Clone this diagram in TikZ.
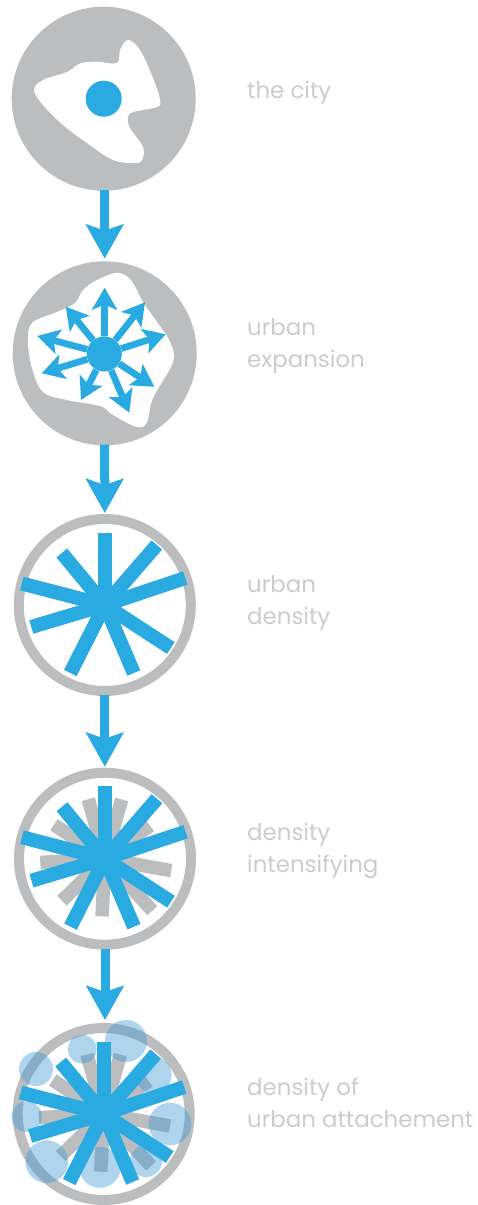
\documentclass[tikz,border=0pt]{standalone}
\usepackage{fontspec}
\setmainfont{Poppins}
\usetikzlibrary{arrows.meta}
\definecolor{cityblue}{HTML}{29ABE2}
\definecolor{citygrey}{HTML}{BBBDBF}
\definecolor{labelgrey}{HTML}{CBCCCE}
\definecolor{haloblue}{RGB}{67,155,216}
\tikzset{
  disc/.style={circle, fill=citygrey, inner sep=0pt, minimum size=184pt},
  ring/.style={circle, draw=citygrey, line width=10pt, inner sep=0pt, minimum size=172pt},
  hub/.style={circle, fill=cityblue, inner sep=0pt},
  flow/.style={draw=cityblue, line width=9pt, shorten <=-1pt, -{Stealth[length=34pt,width=37pt,inset=6pt]}},
  ray/.style={draw=cityblue, line width=6.7pt, -{Stealth[length=22pt,width=25pt,inset=5pt]}},
  spoke/.style={draw=cityblue, line width=14pt},
  bar/.style={draw=citygrey, line width=13.5pt},
  halo/.style={circle, fill=haloblue, fill opacity=0.43, inner sep=0pt},
  caption/.style={anchor=west, align=left, inner sep=0pt, text=labelgrey, font=\fontsize{22.9}{32}\selectfont}
}
\def\spokeends{0/-72.5,52/-60,80.5/-27,66/43,29/68,-34.5/68,-73.5/22,-83/-21.5,-43/-52}
\def\barends{-16.7/-59.5,16.7/-59.3,45/-33,66.3/12,47.3/52,-3/57.7,-43/42,-64.7/3.7,-51/-34}
\begin{document}
\begin{tikzpicture}[x=1pt,y=-1pt]
\useasboundingbox (0,0) rectangle (478,1205);

\node[disc] (city) at (103.7,98.7) {};
\node[disc] (expansion) at (104.7,353.3) {};
\node[ring] (density) at (104.8,605) {};
\node[ring] (intensify) at (105,858.7) {};
\node[ring] (attach) at (103.7,1114) {};

\draw[flow, shorten >=2.5pt] (city.south -| expansion.north) -- (expansion.north);
\draw[flow, shorten >=1pt] (expansion.south) -- (density.north);
\draw[flow, shorten >=1pt] (density.south) -- (density.south |- intensify.north);
\draw[flow, shorten >=3pt] (intensify.south) -- (intensify.south |- attach.north);

\fill[white] plot[smooth cycle, tension=0.6] coordinates {(34,90) (43,80) (67,72) (80,63.5) (97,61.7) (117,63) (120,50) (128,40) (140,50) (153,78) (160,100) (157,107) (133,112) (128,117) (130,128) (143,147) (142,160) (135,163) (113,160) (87,143) (63,125) (43,105)};
\node[hub, minimum size=36pt] (cityhub) at (103.7,98.7) {};

\fill[white] plot[smooth cycle, tension=0.6] coordinates {(115,273) (97,280) (83,290) (75,303) (57,312) (32,323) (28,342) (32,368) (43,392) (67,400) (100,406) (113,415) (137,427) (147,422) (153,398) (173,362) (170,342) (157,322) (143,302) (133,283) (125,275)};
\foreach \tipname/\tipx/\tipy in {a/104.7/287.7,b/145/302.3,c/165.7/334.3,d/154.3/386.7,e/129.3/412.7,f/81/400,g/41.7/373.3,h/37.3/336,i/65.7/306.7}{
  \coordinate (tip\tipname) at (\tipx,\tipy);
}
\node[hub, minimum size=35pt] (expansionhub) at (104.3,354) {};
\foreach \tipname in {a,b,c,d,e,f,g,h,i}{
  \draw[ray] (expansionhub) -- (tip\tipname);
}

\foreach \endx/\endy in \spokeends{
  \draw[spoke] (density.center) -- ++(\endx,\endy);
}

\foreach \endx/\endy in \barends{
  \draw[bar] (intensify.center) -- ++(\endx,\endy);
}
\foreach \endx/\endy in \spokeends{
  \draw[spoke] (intensify.center) -- ++(\endx,\endy);
}

\foreach \endx/\endy in \barends{
  \draw[bar] (attach.center) -- ++(\endx,\endy);
}
\foreach \posx/\posy/\haloradius [count=\n] in {126/1041/21,82.3/1049.3/14.3,36/1069/17,26.7/1116.7/15.3,46.7/1161.7/21.3,100/1167.3/20.5,146/1161/16,170/1124/21.3,153.3/1075/18.3}{
  \node[halo, minimum size=2*\haloradius pt] (halo\n) at (\posx,\posy) {};
}
\foreach \endx/\endy in \spokeends{
  \draw[spoke] (attach.center) -- ++(\endx,\endy);
}

\node[caption] (citytext) at (247,93) {the city};
\node[caption] (expansiontext) at (247,346) {urban\\expansion};
\node[caption] (densitytext) at (247,603) {urban\\density};
\node[caption] (intensifytext) at (247,851) {density\\intensifying};
\node[caption] (attachtext) at (247,1103) {density of\\urban attachement};
\end{tikzpicture}
\end{document}
